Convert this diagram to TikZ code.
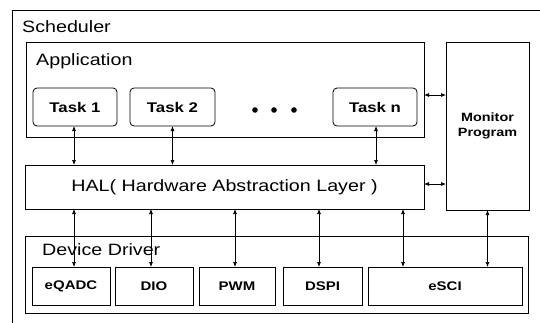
\documentclass[tikz,border=0pt]{standalone}
\usepackage{fontspec}
\setmainfont{Liberation Sans}[FakeStretch=1.2]
\usetikzlibrary{arrows.meta}

\begin{document}
\begin{tikzpicture}[x=1pt,y=-1pt,
  layer/.style={draw, line width=0.8pt, inner sep=0pt, outer sep=0pt},
  taskbox/.style={layer, rounded corners=4pt, minimum width=84pt, minimum height=38pt, font=\fontsize{14}{16}\selectfont\bfseries},
  drvbox/.style={layer, minimum height=38pt, font=\fontsize{12.5}{15}\selectfont\bfseries},
  title/.style={anchor=west, inner sep=0pt, font=\fontsize{16.4}{19}\selectfont},
  dbl/.style={{Latex[length=5pt,width=4pt]}-{Latex[length=5pt,width=4pt]}, line width=0.7pt}]
%set diagram size 540 x 322
\useasboundingbox (0,0) rectangle (540,322);
\clip (0,0) rectangle (540,322);

%Scheduler (cut off right and bottom)
\node[layer, anchor=north west, minimum width=560pt, minimum height=340pt] (sched) at (12,10) {};
\node[title] (schedlbl) at (22,27) {Scheduler};

%Application with tasks
\node[layer, minimum width=398pt, minimum height=95pt] (app) at (225,89.5) {};
\node[title] (applbl) at (36,61) {Application};
\node[taskbox] (task1) at (75,107) {Task 1};
\node[taskbox, minimum width=85pt] (task2) at (172.5,107) {Task 2};
\node[taskbox] (taskn) at (375,107) {Task n};
\fill (255,110) circle (2.8);
\fill (274,110) circle (2.8);
\fill (294,110) circle (2.8);

%Monitor
\node[layer, minimum width=83pt, minimum height=168pt, align=center, font=\fontsize{12}{15}\selectfont\bfseries] (mon) at (487.5,126) {Monitor\\Program};

%HAL
\node[layer, minimum width=399pt, minimum height=44pt, font=\fontsize{16.4}{19}\selectfont] (hal) at (224.5,187) {HAL( Hardware Abstraction Layer )};

%Device driver
\node[layer, minimum width=503pt, minimum height=77pt] (drv) at (276.5,274.5) {};
\node[title] (drvlbl) at (42,250) {Device Driver};
\node[drvbox, minimum width=78pt] (eqadc) at (71,286) {eQADC};
\node[drvbox, minimum width=78pt] (dio) at (154,286) {DIO};
\node[drvbox, minimum width=76pt] (pwm) at (237,286) {PWM};
\node[drvbox, minimum width=79pt] (dspi) at (322.5,286) {DSPI};
\node[drvbox, minimum width=154pt] (esci) at (445,286) {eSCI};

%Arrows
\draw[dbl] (74,0 |- task1.south) -- (74,0 |- hal.north);
\draw[dbl] (task2.south) -- (task2.south |- hal.north);
\draw[dbl] (376,0 |- taskn.south) -- (376,0 |- hal.north);
\draw[dbl] (app.east |- 0,95) -- (mon.west |- 0,95);
\draw[dbl] (hal.east |- 0,184) -- (mon.west |- 0,184);
\draw[dbl] (74,0 |- hal.south) -- (74,0 |- eqadc.north);
\draw[dbl] (151,0 |- hal.south) -- (151,0 |- dio.north);
\draw[dbl] (235,0 |- hal.south) -- (235,0 |- pwm.north);
\draw[dbl] (319,0 |- hal.south) -- (319,0 |- dspi.north);
\draw[dbl] (403,0 |- hal.south) -- (403,0 |- esci.north);
\draw[dbl] (mon.south) -- (mon.south |- esci.north);

\end{tikzpicture}
\end{document}
